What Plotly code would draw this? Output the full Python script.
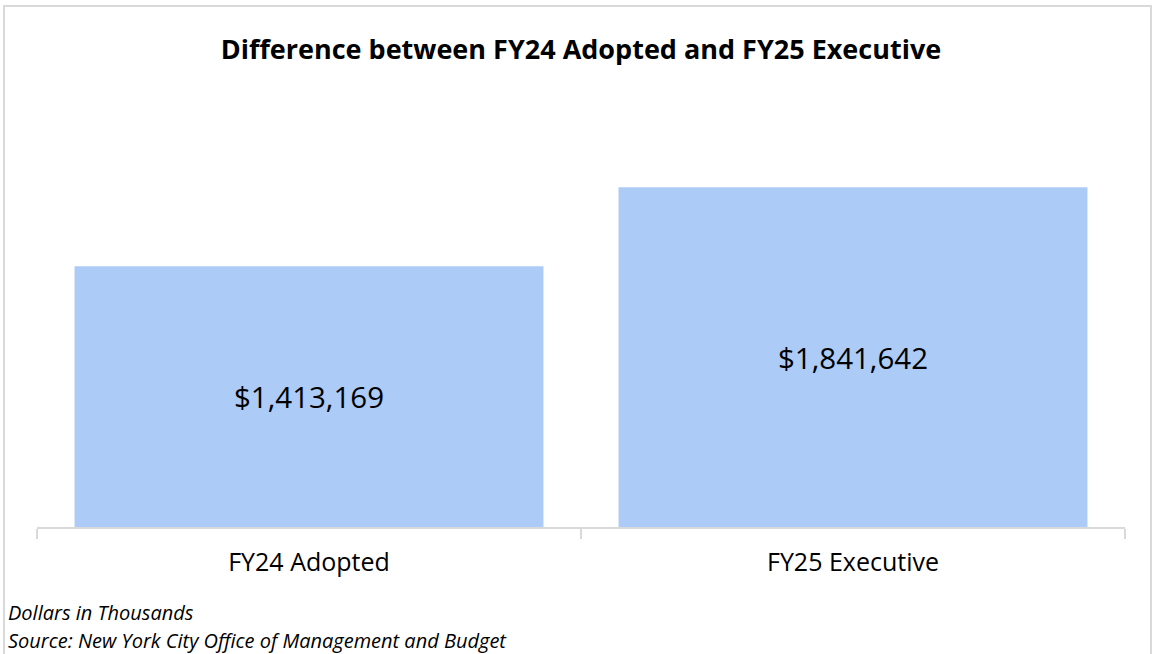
import plotly.graph_objects as go

categories = ["FY24 Adopted", "FY25 Executive"]
values = [1413169, 1841642]
labels = ["$1,413,169", "$1,841,642"]

W, H = 1155, 654
L, R, T, B = 37, 30, 158, 127
pw = W - L - R
ph = H - T - B
FONT = "Open Sans, sans-serif"

def px_x(p):
    return (p - L) / pw

def px_y(p):
    return (H - B - p) / ph

fig = go.Figure(go.Bar(
    x=categories, y=values, text=labels,
    textposition="inside", insidetextanchor="middle",
    textfont=dict(family=FONT, size=29.5, color="#000000"),
    marker=dict(color="#ADCBF7", line=dict(width=0)),
    hoverinfo="skip",
))

fig.update_layout(
    width=W, height=H,
    margin=dict(l=L, r=R, t=T, b=B),
    paper_bgcolor="white", plot_bgcolor="white",
    bargap=0.138,
    showlegend=False,
    title=dict(text="<b>Difference between FY24 Adopted and FY25 Executive</b>",
               x=0.503, xanchor="center", y=1 - 50 / H, yanchor="middle",
               font=dict(family=FONT, size=27, color="#000000")),
    xaxis=dict(showline=True, linecolor="#D9D9D9", linewidth=1.5,
               ticks="outside", tickson="boundaries", ticklen=10, tickcolor="#D9D9D9", tickwidth=1.5,
               tickfont=dict(family=FONT, size=25, color="#000000"),
               ticklabelstandoff=12,
               showgrid=False, fixedrange=True),
    yaxis=dict(range=[0, 2000000], visible=False, showgrid=False, fixedrange=True),
)

fig.add_shape(type="rect", xref="paper", yref="paper",
              x0=px_x(4), x1=px_x(1151), y0=px_y(680), y1=px_y(6),
              line=dict(color="#D9D9D9", width=2), fillcolor="rgba(0,0,0,0)", layer="below")

fig.add_annotation(text="<i>Dollars in Thousands</i>", xref="paper", yref="paper",
                   x=px_x(6), y=px_y(612), xanchor="left", yanchor="middle", showarrow=False,
                   font=dict(family=FONT, size=20, color="#000000"))
fig.add_annotation(text="<i>Source: New York City Office of Management and Budget</i>", xref="paper", yref="paper",
                   x=px_x(6), y=px_y(640), xanchor="left", yanchor="middle", showarrow=False,
                   font=dict(family=FONT, size=20, color="#000000"))

fig.write_html("out.html")
